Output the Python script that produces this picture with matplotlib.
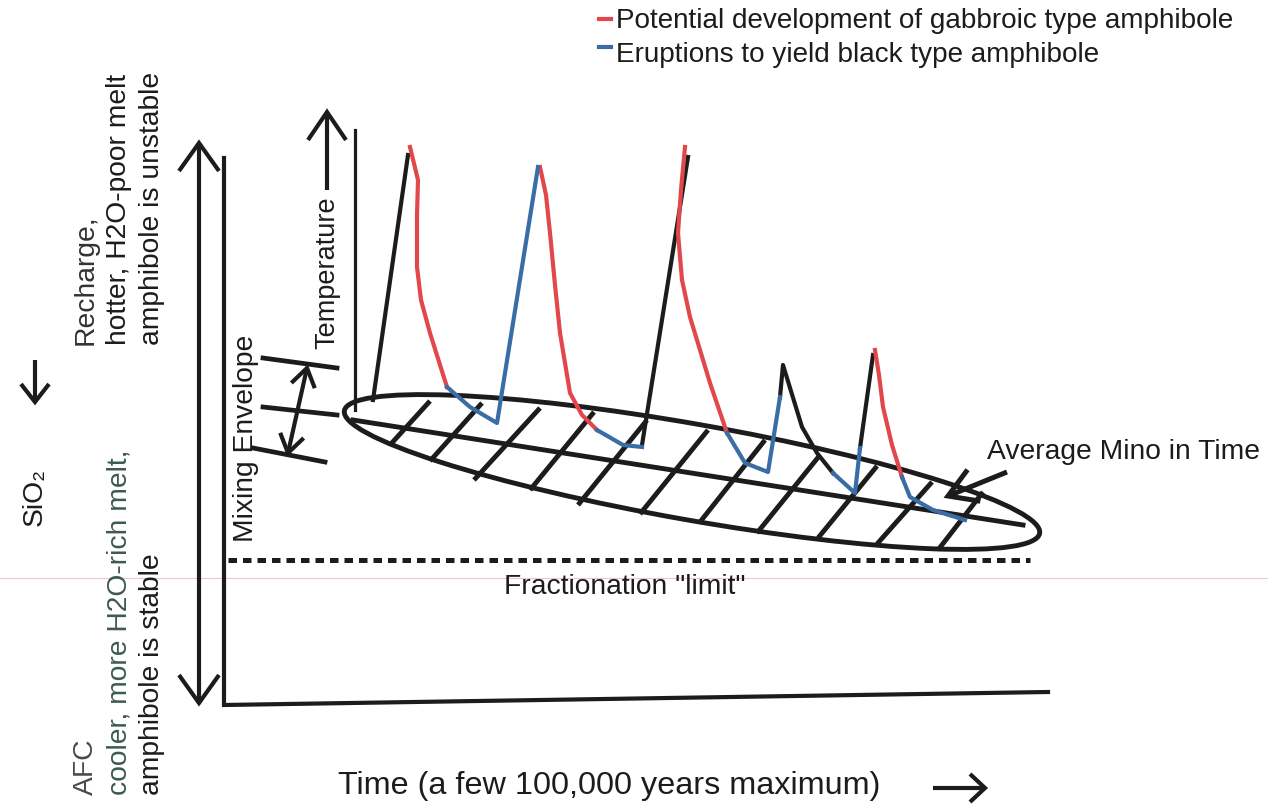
import numpy as np
import matplotlib
matplotlib.use('Agg')
import matplotlib.pyplot as plt
from matplotlib.patches import Ellipse

plt.rcParams['font.family'] = ['Liberation Sans', 'DejaVu Sans']

# picture units: x to the right, y downwards (0..1268, 0..808)
RED = '#e2474b'
BLUE = '#3a6da6'
INK = '#1c1c1c'

# magma path, split in runs by colour
red_runs_x = [[410, 418, 417, 417, 421, 430, 440, 447],
              [540, 546, 550, 555, 560, 570, 582, 597],
              [685, 681, 678, 682, 690, 700, 710, 727],
              [875, 879, 883, 892, 902]]
red_runs_y = [[147, 180, 215, 267, 300, 333, 365, 387],
              [167, 195, 233, 285, 333, 393, 415, 430],
              [147, 190, 233, 280, 317, 350, 383, 433],
              [350, 375, 407, 445, 477]]
blue_runs_x = [[447, 470, 497, 538],
               [597, 623, 642],
               [727, 745, 768, 780],
               [833, 855, 860],
               [902, 910, 933, 965]]
blue_runs_y = [[387, 407, 423, 167],
               [430, 445, 447],
               [433, 463, 472, 397],
               [473, 493, 448],
               [477, 497, 510, 520]]
black_runs_x = [[373, 408], [642, 688], [780, 783, 802, 817, 833], [860, 873]]
black_runs_y = [[400, 155], [445, 157], [397, 365, 427, 453, 473], [448, 355]]

# mixing envelope (ellipse) and its hatching
env_center = (692, 472)
env_size = (706, 96)
env_angle = 10
mid_line_x = [353, 1023]
mid_line_y = [420, 525]
hatch_low_x = [390, 430, 474, 530, 578, 640, 700, 757, 818, 877, 938]
hatch_low_y = [445, 461, 480, 490, 505, 514, 522, 533, 538, 544, 550]
hatch_up_x = [430, 482, 540, 594, 647, 708, 765, 820, 877, 932, 983]
hatch_up_y = [401, 403, 408, 412, 420, 430, 440, 455, 466, 482, 492]

# mixing envelope bracket ticks
tick_x = [[263, 337], [263, 337], [253, 325]]
tick_y = [[358, 368], [407, 415], [448, 462]]

legend_labels = ['Potential development of gabbroic type amphibole',
                 'Eruptions to yield black type amphibole']


def open_arrow(ax, tail, tip, head_len, head_w, lw=3.0, both=False):
    (x0, y0), (x1, y1) = tail, tip
    d = np.hypot(x1 - x0, y1 - y0)
    ux, uy = (x1 - x0) / d, (y1 - y0) / d
    px, py = -uy, ux
    ax.plot([x0, x1], [y0, y1], color=INK, lw=lw, solid_capstyle='butt')
    ends = [((x1, y1), (ux, uy))]
    if both:
        ends.append(((x0, y0), (-ux, -uy)))
    for (tx, ty), (vx, vy) in ends:
        bx, by = tx - vx * head_len, ty - vy * head_len
        ax.plot([bx + px * head_w, tx, bx - px * head_w],
                [by + py * head_w, ty, by - py * head_w],
                color=INK, lw=lw, solid_joinstyle='miter', solid_capstyle='butt')


fig = plt.figure(figsize=(12.68, 8.08), dpi=100)
ax = fig.add_axes([0, 0, 1, 1])
ax.set_xlim(0, 1268)
ax.set_ylim(808, 0)
ax.axis('off')

# faint scan line
ax.plot([0, 1268], [578, 578], color='#f1c4d4', lw=0.8)

# axes of the sketch
ax.plot([224, 224, 1048], [158, 705, 692], color=INK, lw=3.0,
        solid_joinstyle='miter')
ax.plot([355, 355], [130, 410], color=INK, lw=2.3)
open_arrow(ax, (199, 143), (199, 703), 28, 20, lw=3.0, both=True)
open_arrow(ax, (327, 190), (327, 112), 28, 19, lw=3.0)
open_arrow(ax, (35, 360), (35, 402), 18, 14, lw=3.0)
open_arrow(ax, (933, 788), (985, 788), 15, 14, lw=3.0)

# fractionation limit
ax.plot([228, 1030], [560, 560], color=INK, lw=3.6, linestyle=(0, (1.7, 1.2)))

# envelope
ax.add_patch(Ellipse(env_center, env_size[0], env_size[1], angle=env_angle,
                     fill=False, edgecolor=INK, lw=3.5))
ax.plot(mid_line_x, mid_line_y, color=INK, lw=3.5)
for xl, yl, xu, yu in zip(hatch_low_x, hatch_low_y, hatch_up_x, hatch_up_y):
    ax.plot([xl, xu], [yl, yu], color=INK, lw=3.5, solid_capstyle='butt')

# mixing bracket
for tx, ty in zip(tick_x, tick_y):
    ax.plot(tx, ty, color=INK, lw=3.4)
open_arrow(ax, (307, 368), (288, 453), 18, 12, lw=3.0, both=True)

# average arrow
open_arrow(ax, (1007, 472), (948, 496), 28, 17, lw=3.6)

# magma path
for xs, ys in zip(black_runs_x, black_runs_y):
    ax.plot(xs, ys, color=INK, lw=3.0, solid_joinstyle='round')
for xs, ys in zip(red_runs_x, red_runs_y):
    ax.plot(xs, ys, color=RED, lw=3.0, solid_joinstyle='round')
for xs, ys in zip(blue_runs_x, blue_runs_y):
    ax.plot(xs, ys, color=BLUE, lw=3.0, solid_joinstyle='round')

# legend
ax.plot([599, 611], [19, 19], color=RED, lw=3.0)
ax.plot([599, 611], [47, 47], color=BLUE, lw=3.0)
ax.text(616, 21, legend_labels[0], fontsize=20.1, color=INK, va='center', ha='left')
ax.text(616, 55, legend_labels[1], fontsize=20.1, color=INK, va='center', ha='left')

# text labels
fs = 20.3
ax.text(35, 497, 'SiO₂', fontsize=fs, color=INK, rotation=90, ha='center', va='center')
ax.text(86, 345, 'Recharge,', fontsize=fs, color='#333333', rotation=90, ha='center', va='bottom')
ax.text(119, 345, 'hotter, H2O-poor melt', fontsize=fs, color=INK, rotation=90, ha='center', va='bottom')
ax.text(152, 345, 'amphibole is unstable', fontsize=fs, color=INK, rotation=90, ha='center', va='bottom')
ax.text(86, 795, 'AFC', fontsize=fs, color='#4a4a4a', rotation=90, ha='center', va='bottom')
ax.text(119, 795, 'cooler, more H2O-rich melt,', fontsize=fs, color='#3d5a4e', rotation=90, ha='center', va='bottom')
ax.text(152, 795, 'amphibole is stable', fontsize=fs, color=INK, rotation=90, ha='center', va='bottom')
ax.text(246, 438, 'Mixing Envelope', fontsize=fs, color=INK, rotation=90, ha='center', va='center')
ax.text(327, 273, 'Temperature', fontsize=19.5, color=INK, rotation=90, ha='center', va='center')
ax.text(625, 587, 'Fractionation "limit"', fontsize=fs, color=INK, ha='center', va='center')
ax.text(987, 452, 'Average Mino in Time', fontsize=fs, color=INK, ha='left', va='center')
ax.text(338, 786, 'Time (a few 100,000 years maximum)', fontsize=23.3, color=INK, ha='left', va='center')

fig.savefig('out.png', dpi=100)
